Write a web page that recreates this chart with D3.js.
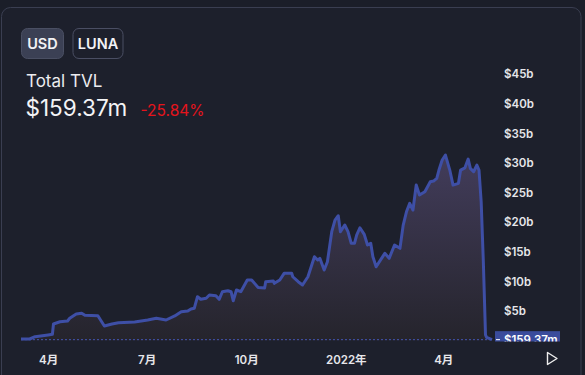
<!DOCTYPE html>
<html><head><meta charset="utf-8">
<script src="https://cdn.jsdelivr.net/npm/d3@7"></script>
<style>
html,body{margin:0;padding:0;background:#1b1e29;}
svg{display:block;font-family:Inter,"Noto Sans","Noto Sans CJK SC",sans-serif;}
</style></head>
<body>
<svg id="c" width="585" height="375"></svg>
<script>
const dates = ["2021-03-07","2021-03-15","2021-03-20","2021-04-01","2021-04-05","2021-04-06","2021-04-12","2021-04-19","2021-04-21","2021-04-27","2021-05-02","2021-05-05","2021-05-17","2021-05-23","2021-05-30","2021-06-05","2021-06-20","2021-07-02","2021-07-10","2021-07-19","2021-07-27","2021-08-02","2021-08-08","2021-08-11","2021-08-14","2021-08-17","2021-08-20","2021-08-25","2021-08-28","2021-09-03","2021-09-06","2021-09-09","2021-09-14","2021-09-17","2021-09-19","2021-09-22","2021-09-26","2021-10-02","2021-10-06","2021-10-12","2021-10-18","2021-10-19","2021-10-26","2021-10-27","2021-11-01","2021-11-05","2021-11-12","2021-11-13","2021-11-18","2021-11-22","2021-11-27","2021-11-30","2021-12-03","2021-12-06","2021-12-08","2021-12-12","2021-12-15","2021-12-19","2021-12-22","2021-12-25","2021-12-27","2021-12-31","2022-01-03","2022-01-06","2022-01-09","2022-01-11","2022-01-14","2022-01-18","2022-01-21","2022-01-24","2022-01-26","2022-01-29","2022-02-03","2022-02-06","2022-02-10","2022-02-15","2022-02-20","2022-02-23","2022-02-26","2022-03-01","2022-03-04","2022-03-07","2022-03-10","2022-03-15","2022-03-20","2022-03-23","2022-03-26","2022-03-28","2022-03-31","2022-04-03","2022-04-07","2022-04-10","2022-04-15","2022-04-17","2022-04-21","2022-04-24","2022-04-26","2022-04-29","2022-05-02","2022-05-04","2022-05-06","2022-05-08","2022-05-10","2022-05-11","2022-05-16"];
const tvlBillions = [0.27,0.27,0.66,0.95,1.06,2.8,3.19,3.31,3.77,4.49,4.61,4.27,4.21,2.47,2.8,3.02,3.14,3.48,3.77,3.48,4.16,4.88,5.0,5.34,5.46,7.42,6.98,7.15,7.7,7.58,6.98,8.26,8.43,8.26,6.74,8.55,8.26,10.24,10.24,8.97,8.89,9.95,10.07,9.68,10.24,11.37,11.37,10.79,9.95,9.39,10.79,12.48,14.17,13.61,13.9,11.93,13.33,18.4,20.37,21.1,18.4,19.53,18.4,16.44,16.44,17.84,19.07,17.96,16.15,16.44,14.17,12.48,13.9,14.75,13.9,16.15,15.59,19.53,21.77,23.19,22.06,26.28,24.59,25.15,26.84,26.96,27.42,28.82,30.51,31.35,28.82,26.28,26.57,28.82,29.2,30.68,29.1,28.53,29.66,28.82,23.46,13.33,0.95,0.56,0.159];
const yTicks = [5,10,15,20,25,30,35,40,45];
const xTickDates = ["2021-04-01","2021-07-01","2021-10-01","2022-01-01","2022-04-01"];
const xTickLabels = ["4月","7月","10月","2022年","4月"];
const currencies = ["USD","LUNA"];
const title = "Total TVL";
const currentValue = "$159.37m";
const change = "-25.84%";

const parse = d3.utcParse("%Y-%m-%d");
const data = dates.map((d,i)=>({t:parse(d), v:tvlBillions[i]}));
const svg = d3.select("#c");

// card
svg.append("rect").attr("x",1.5).attr("y",7.5).attr("width",579.5).attr("height",390)
  .attr("rx",9).attr("fill","#1d202c").attr("stroke","#3a3e51").attr("stroke-width",1);

// buttons
const btn = [{x:21,w:42,fill:"#3b4054",stroke:"#4a4f63"},{x:72.5,w:50,fill:"none",stroke:"#4a4e63"}];
currencies.forEach((c,i)=>{
  const b = btn[i];
  svg.append("rect").attr("x",b.x+0.5).attr("y",28.5).attr("width",b.w).attr("height",30)
    .attr("rx",6).attr("fill",b.fill).attr("stroke",b.stroke);
  svg.append("text").attr("x",b.x+0.5+b.w/2).attr("y",49).attr("text-anchor","middle")
    .attr("fill","#f2f2f5").attr("font-size",14.5).attr("font-weight",600).text(c);
});

svg.append("text").attr("x",26).attr("y",87).attr("fill","#ececef").attr("font-size",17).text(title);
svg.append("text").attr("x",25.5).attr("y",116).attr("fill","#f4f4f6").attr("font-size",22.5).text(currentValue);
svg.append("text").attr("x",140.5).attr("y",116).attr("fill","#e5141c").attr("font-size",15.5).text(change);

// scales
const x = d3.scaleUtc().domain([parse("2021-03-07"), parse("2022-05-16")]).range([21,492]);
const y = d3.scaleLinear().domain([0,45]).range([340.6,74.3]);

const defs = svg.append("defs");
const g = defs.append("linearGradient").attr("id","ag").attr("gradientUnits","userSpaceOnUse")
  .attr("x1",0).attr("x2",0).attr("y1",150).attr("y2",341);
g.append("stop").attr("offset","0%").attr("stop-color","#433d5c");
g.append("stop").attr("offset","100%").attr("stop-color","#25242c");
defs.append("clipPath").attr("id","pc").append("rect").attr("x",0).attr("y",0).attr("width",585).attr("height",341.5);

const plot = svg.append("g").attr("clip-path","url(#pc)");
plot.append("path").datum(data)
  .attr("d", d3.area().x(d=>x(d.t)).y0(y(0)).y1(d=>y(d.v)).curve(d3.curveLinear))
  .attr("fill","url(#ag)");

// dashed baseline at last value
plot.append("line").attr("x1",21).attr("x2",492).attr("y1",y(tvlBillions[tvlBillions.length-1])).attr("y2",y(tvlBillions[tvlBillions.length-1]))
  .attr("stroke","#4455b0").attr("stroke-width",1).attr("stroke-dasharray","2,2");

plot.append("path").datum(data)
  .attr("d", d3.line().x(d=>x(d.t)).y(d=>y(d.v)).curve(d3.curveLinear))
  .attr("fill","none").attr("stroke","#3e4fa6").attr("stroke-width",3).attr("stroke-linejoin","round");

// y axis
const yAxis = d3.axisRight(y).tickValues(yTicks).tickSize(0).tickPadding(0).tickFormat(d=>"$"+d+"b");
const ya = svg.append("g").attr("transform","translate(504,0)").call(yAxis);
ya.select(".domain").remove();
ya.selectAll("text").attr("fill","#e6e6ea").attr("font-size",11.5).attr("font-weight",600)
  .attr("font-family","Inter,sans-serif");

// last-value label (clipped)
const lv = y(tvlBillions[tvlBillions.length-1]);
plot.append("rect").attr("x",495).attr("y",lv-8.5).attr("width",65).attr("height",17).attr("fill","#3a4c9c");
plot.append("line").attr("x1",496).attr("x2",500).attr("y1",lv).attr("y2",lv).attr("stroke","#ffffff").attr("stroke-width",1);
plot.append("text").attr("x",504).attr("y",lv+4).attr("fill","#ffffff").attr("font-size",11.5).attr("font-weight",600).text(currentValue);

// x axis
const xAxis = d3.axisBottom(x).tickValues(xTickDates.map(parse)).tickSize(0).tickPadding(0)
  .tickFormat((d,i)=>xTickLabels[i]);
const xa = svg.append("g").attr("transform","translate(0,356)").call(xAxis);
xa.select(".domain").remove();
xa.selectAll("text").attr("fill","#e6e6ea").attr("font-size",11.5).attr("font-weight",600)
  .attr("font-family","Inter,'Noto Sans CJK SC',sans-serif");

// play button
svg.append("path").attr("d","M547.5,352.5 L557,358.5 L547.5,364.5 Z").attr("fill","none")
  .attr("stroke","#eeeeee").attr("stroke-width",1.4).attr("stroke-linejoin","round");
</script>
</body></html>
